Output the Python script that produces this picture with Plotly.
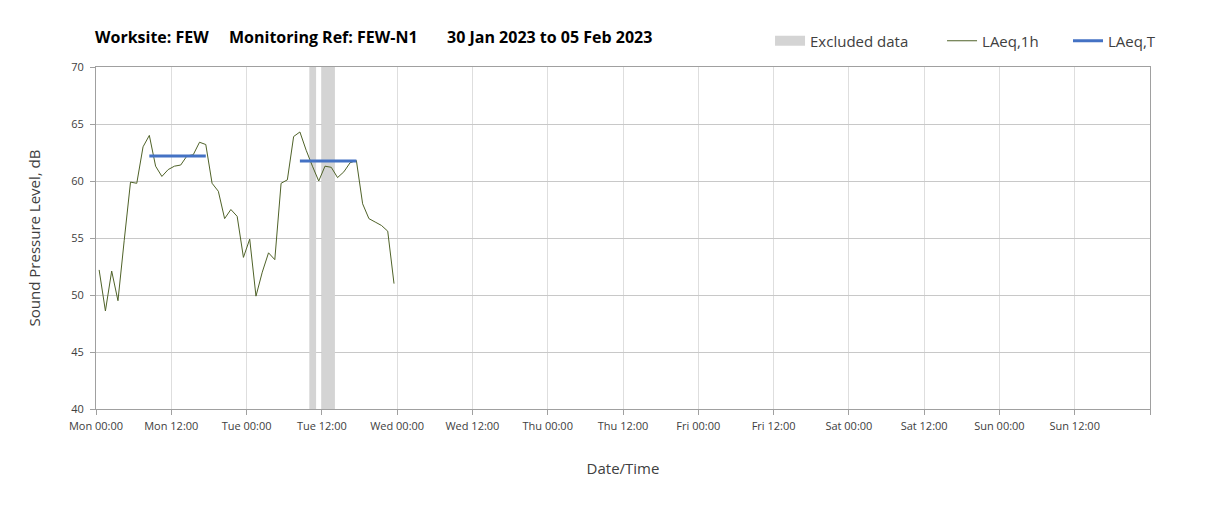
import pandas as pd
import plotly.graph_objects as go

# ---- data ----
hour_start = "2023-01-30 00:30"
laeq_1h = [52.2, 48.6, 52.1, 49.5, 54.8, 59.9, 59.8, 63.0, 64.0, 61.3,
           60.4, 61.0, 61.3, 61.4, 62.2, 62.3, 63.4, 63.2, 59.8, 59.1,
           56.7, 57.5, 56.9, 53.3, 54.9, 49.9, 52.0, 53.7, 53.1, 59.8,
           60.1, 63.9, 64.3, 62.7, 61.3, 60.0, 61.3, 61.2, 60.3, 60.8,
           61.6, 61.8, 58.0, 56.7, 56.4, 56.1, 55.6, 51.0]

laeq_t_start = ["2023-01-30 08:30", "2023-01-31 08:30"]
laeq_t_end = ["2023-01-30 17:30", "2023-01-31 17:30"]
laeq_t_value = [62.2, 61.75]

excl_start = ["2023-01-31 10:00", "2023-01-31 12:00"]
excl_end = ["2023-01-31 11:05", "2023-01-31 14:05"]

y_min, y_max = 40, 70
x_start, x_end = "2023-01-30 00:00", "2023-02-06 00:00"

title_parts = ["Worksite: FEW", "Monitoring Ref: FEW-N1",
               "30 Jan 2023 to 05 Feb 2023"]

# ---- derived ----
times = pd.date_range(hour_start, periods=len(laeq_1h), freq="h")
es = pd.to_datetime(excl_start)
ee = pd.to_datetime(excl_end)
excl_center = es + (ee - es) / 2
excl_width = [(b - a).total_seconds() * 1000 for a, b in zip(es, ee)]

lt_x, lt_y = [], []
for s, e, v in zip(laeq_t_start, laeq_t_end, laeq_t_value):
    lt_x += [s, e, None]
    lt_y += [v, v, None]

tickvals = pd.date_range(x_start, x_end, freq="12h")
ticktext = [t.strftime("%a %H:%M") for t in tickvals]
ticktext[-1] = ""

EXCL_COLOR = "#d4d4d4"

fig = go.Figure()
fig.add_trace(go.Bar(
    x=excl_center, y=[y_max - y_min] * len(excl_center), base=y_min,
    width=excl_width, marker=dict(color=EXCL_COLOR, line=dict(width=0)),
    name="Excluded data", hoverinfo="skip", showlegend=False,
    legendgroup="excl"))
# legend entry for the excluded bands (rectangular swatch)
fig.add_trace(go.Scatter(
    x=[None], y=[None], mode="lines", name="Excluded data",
    line=dict(color=EXCL_COLOR, width=12), legendgroup="excl",
    legend="legend"))
fig.add_trace(go.Scatter(
    x=times, y=laeq_1h, mode="lines", name="LAeq,1h",
    line=dict(color="#4f6228", width=1), legend="legend2"))
fig.add_trace(go.Scatter(
    x=lt_x, y=lt_y, mode="lines", name="LAeq,T",
    line=dict(color="#4472c4", width=3), legend="legend3"))

font_family = "Open Sans, Lato, sans-serif"
leg_common = dict(orientation="h", xanchor="left", y=1.076,
                  yanchor="middle", font=dict(size=15, color="#404040"),
                  bgcolor="rgba(0,0,0,0)")
title_x = [-0.0025, 0.1243, 0.3309]
fig.update_layout(
    width=1200, height=498,
    margin=dict(l=88, r=58, t=59, b=97),
    paper_bgcolor="white", plot_bgcolor="white",
    font=dict(family=font_family, color="#404040"),
    showlegend=True,
    legend=dict(x=0.6395, **leg_common),
    legend2=dict(x=0.8027, **leg_common),
    legend3=dict(x=0.9222, **leg_common),
    annotations=[dict(text="<b>" + t + "</b>", xref="paper",
                      yref="paper", x=x, xanchor="left",
                      y=1.0877, yanchor="middle", showarrow=False,
                      font=dict(size=16, color="#000000"))
                 for t, x in zip(title_parts, title_x)],
)
fig.update_xaxes(
    type="date", range=[x_start, x_end],
    tickmode="array", tickvals=tickvals, ticktext=ticktext,
    ticks="outside", ticklen=5, tickcolor="#a0a0a0",
    tickfont=dict(size=11, color="#404040"), ticklabelstandoff=2,
    showgrid=True, gridcolor="#dedede", gridwidth=1,
    showline=True, linecolor="#a0a0a0", linewidth=1, mirror=True,
    zeroline=False,
    title=dict(text="Date/Time", font=dict(size=15, color="#404040"),
               standoff=31),
)
fig.update_yaxes(
    range=[y_min, y_max], dtick=5, tick0=40,
    ticks="outside", ticklen=5, tickcolor="#a0a0a0",
    tickfont=dict(size=11, color="#404040"), ticklabelstandoff=4,
    showgrid=True, gridcolor="#c8c8c8", gridwidth=1,
    showline=True, linecolor="#a0a0a0", linewidth=1, mirror=True,
    zeroline=False,
    title=dict(text="Sound Pressure Level, dB",
               font=dict(size=15, color="#404040"), standoff=26),
)

fig.write_html("out.html")
